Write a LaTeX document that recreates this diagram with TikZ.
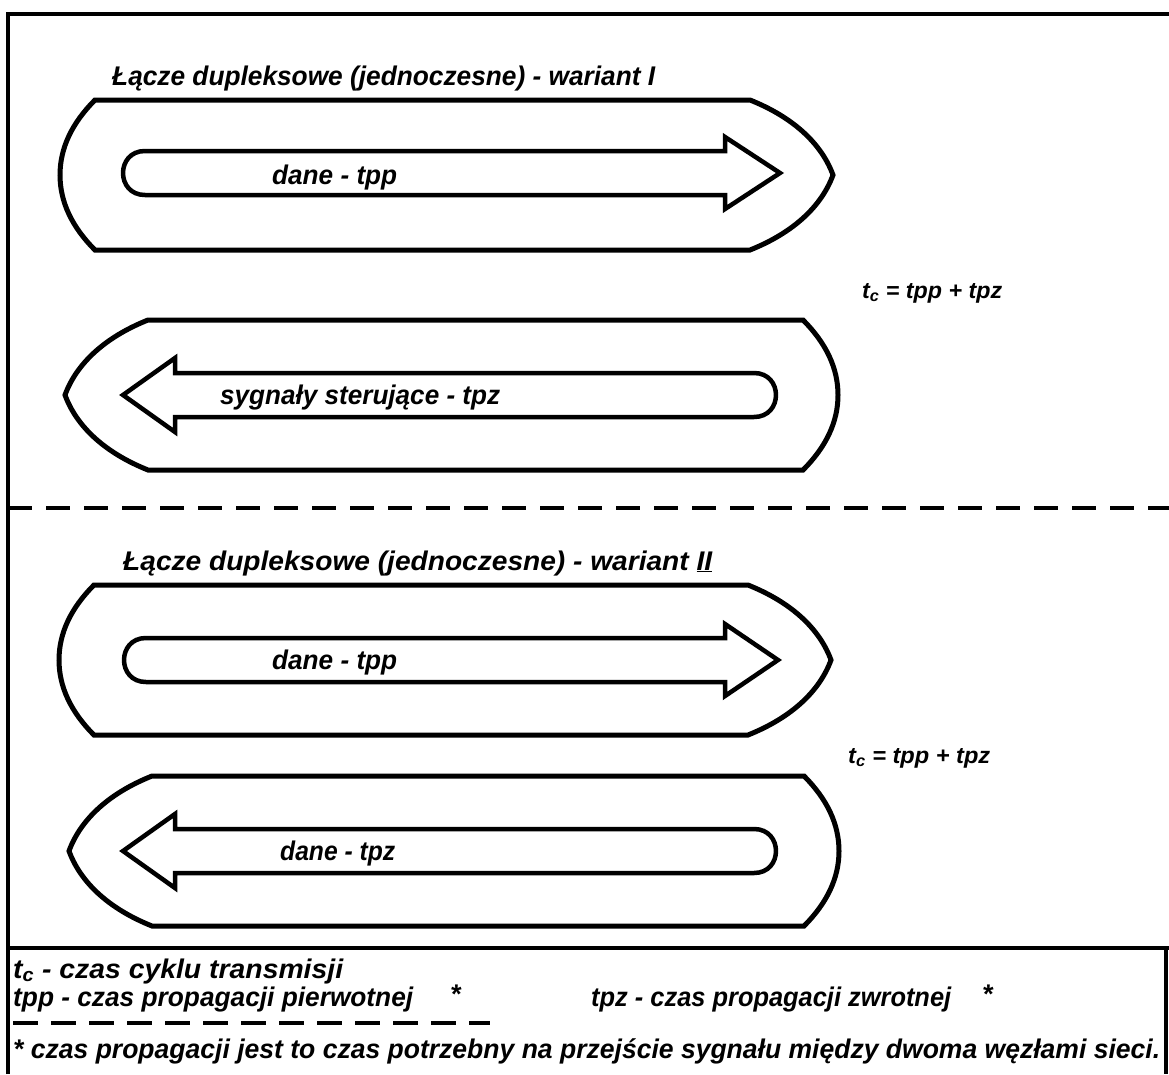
\documentclass[tikz,border=0pt]{standalone}
\usepackage{fontspec}
\setmainfont{Liberation Sans}
\usepackage{graphicx}
\newsavebox\fitbox
\newcommand\fitx[2]{\sbox\fitbox{#2}\pgfmathsetmacro\fitfac{#1/(\the\wd\fitbox)}\scalebox{\fitfac}[1]{\usebox\fitbox}}
% right-pointing outer capsule: left corner x, right corner x, centre y
\newcommand\rcaps[3]{%
  \draw[outl] (#1,#3-75) -- (#2,#3-75)
    .. controls (#2+45,#3-57) and (#2+72,#3-30) .. (#2+83,#3)
    .. controls (#2+72,#3+30) and (#2+45,#3+57) .. (#2,#3+75)
    -- (#1,#3+75)
    .. controls (#1-23,#3+52) and (#1-35,#3+27) .. (#1-35,#3)
    .. controls (#1-35,#3-27) and (#1-23,#3-52) .. cycle;}
% left-pointing outer capsule
\newcommand\lcaps[3]{%
  \draw[outl] (#1,#3-75) -- (#2,#3-75)
    .. controls (#2+23,#3-52) and (#2+35,#3-27) .. (#2+35,#3)
    .. controls (#2+35,#3+27) and (#2+23,#3+52) .. (#2,#3+75)
    -- (#1,#3+75)
    .. controls (#1-45,#3+57) and (#1-72,#3+30) .. (#1-83,#3)
    .. controls (#1-72,#3-30) and (#1-45,#3-57) .. cycle;}
% right arrow: left end x, head base x, tip x, centre y
\newcommand\rarrow[4]{%
  \draw[arr] (#1+22,#4-22) -- (#2,#4-22) -- (#2,#4-36) -- (#3,#4) -- (#2,#4+36) -- (#2,#4+22) -- (#1+22,#4+22)
    .. controls (#1-7.3,#4+22) and (#1-7.3,#4-22) .. cycle;}
% left arrow: tip x, head base x, right end x, centre y
\newcommand\larrow[4]{%
  \draw[arr] (#1,#4) -- (#2,#4-37) -- (#2,#4-22) -- (#3-22,#4-22)
    .. controls (#3+7.3,#4-22) and (#3+7.3,#4+22) .. (#3-22,#4+22)
    -- (#2,#4+22) -- (#2,#4+37) -- cycle;}
\begin{document}
\begin{tikzpicture}[x=1pt,y=-1pt,
  outl/.style={line width=5pt,line join=miter},
  arr/.style={line width=4.5pt,line join=miter},
  frm/.style={line width=4pt},
  lbl/.style={inner sep=0pt,anchor=base west,font=\fontsize{27}{30}\selectfont\bfseries\itshape},
  frml/.style={inner sep=0pt,anchor=base west,font=\fontsize{23}{26}\selectfont\bfseries\itshape}]
\useasboundingbox[fill=white] (0,0) rectangle (1169,1074);
% frame
\draw[frm] (8,1074) -- (8,14) -- (1169,14);
\draw[frm,dash pattern=on 24pt off 14pt] (8,508) -- (1169,508);
\draw[frm] (8,948) -- (1169,948);
\draw[frm] (1166,948) -- (1166,1074);
\draw[frm,dash pattern=on 25pt off 13pt] (13,1023) -- (490,1023);
% variant I
\node[lbl] (t1) at (112,85) {\fitx{543}{Łącze dupleksowe (jednoczesne) - wariant I}};
\rcaps{95}{750}{175}
\rarrow{123}{725}{780}{173}
\node[lbl] (d1) at (272,184) {\fitx{125}{dane - tpp}};
\lcaps{148}{803}{395}
\larrow{123}{175}{776}{395}
\node[lbl] (s1) at (220,404) {\fitx{280}{sygnały sterujące - tpz}};
\node[frml] (f1) at (862,298) {\fitx{140}{t\textsubscript{c} = tpp + tpz}};
% variant II
\node[lbl] (t2) at (123,570) {\fitx{589}{Łącze dupleksowe (jednoczesne) - wariant \underline{II}}};
\rcaps{94}{748}{660}
\rarrow{124}{725}{778}{660}
\node[lbl] (d2) at (272,669) {\fitx{125}{dane - tpp}};
\lcaps{152}{804}{851}
\larrow{123}{175}{776}{851}
\node[lbl] (d3) at (280,860) {\fitx{115}{dane - tpz}};
\node[frml] (f2) at (848,763) {\fitx{142}{t\textsubscript{c} = tpp + tpz}};
% legend
\node[lbl] (l1) at (13,978) {\fitx{330}{t\textsubscript{c} - czas cyklu transmisji}};
\node[lbl] (l2) at (13,1006) {\fitx{400}{tpp - czas propagacji pierwotnej}};
\node[lbl] (m2) at (450,1003) {*};
\node[lbl] (l3) at (591,1006) {\fitx{360}{tpz - czas propagacji zwrotnej}};
\node[lbl] (m3) at (982,1003) {*};
\node[lbl] (l4) at (13,1058) {\fitx{1147}{* czas propagacji jest to czas potrzebny na przejście sygnału między dwoma węzłami sieci.}};
\end{tikzpicture}
\end{document}
